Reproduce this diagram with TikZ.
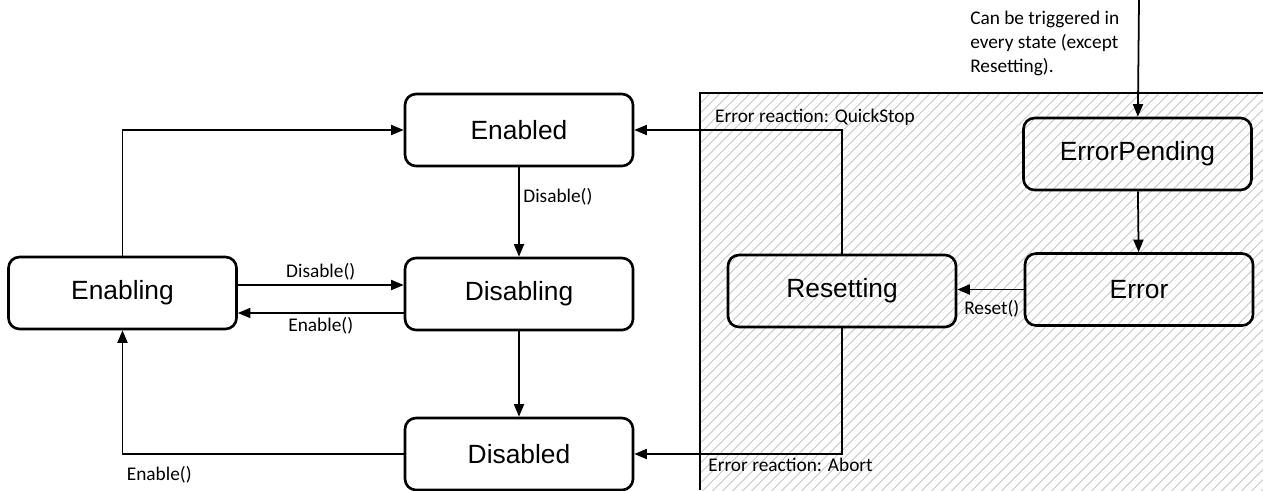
\documentclass[tikz,border=0pt]{standalone}
\usepackage{fontspec}
\setmainfont{Liberation Sans}
\newfontfamily\lblfont{Carlito}
\usetikzlibrary{arrows.meta,patterns.meta}

\begin{document}
\begin{tikzpicture}[
    >={Triangle[length=2.5mm,width=2mm]},
    state/.style={rectangle, draw, line width=1.5pt, rounded corners=0.22cm,
        minimum width=4.56cm, minimum height=1.44cm, font=\fontsize{15}{18}\selectfont},
    trans/.style={font=\lblfont\fontsize{11}{13.6}\selectfont, inner sep=2pt},
    conn/.style={->, line width=1pt}
  ]
    \useasboundingbox (0,0) rectangle (25.26,9.8);

    % Fehlerbereich (schraffiert)
    \fill[pattern={Lines[angle=45,distance=4pt,line width=0.5pt]}, pattern color=black!25]
        (14,7.94) rectangle (25.26,0);
    \draw[line width=1pt] (25.26,7.94) -| (14,0);

    \node[state] (Enabled) at (10.38, 7.2) {Enabled};
    \node[state] (Enabling) at (2.45, 3.94) {Enabling};
    \node[state] (Disabling) at (10.38, 3.92) {Disabling};
    \node[state] (Disabled) at (10.38, 0.72) {Disabled};
    \node[state] (ErrorPending) at (22.75, 6.72) {ErrorPending};
    \node[state] (Error) at (22.78, 4.01) {Error};
    \node[state] (Resetting) at (16.84, 3.98) {Resetting};

    % Uebergaenge
    \draw[conn] (Enabling.north) |- (Enabled.west);
    \draw[conn] (Enabled) -- node[trans, pos=0.33, right] {Disable()} (Disabling);
    \draw[conn] ([yshift=0.16cm]Enabling.east) -- node[trans, above] {Disable()}
        ([yshift=0.16cm]Enabling.east -| Disabling.west);
    \draw[conn] ([yshift=-0.38cm]Disabling.west) -- node[trans, below] {Enable()}
        ([yshift=-0.38cm]Disabling.west -| Enabling.east);
    \draw[conn] (Disabling) -- (Disabled);
    \draw[conn] (Disabled.west) -| node[trans, pos=0.5, below right, yshift=-0.15cm] {Enable()} (Enabling.south);

    % Fehlerbehandlung
    \coordinate (trig) at (22.78, 9.8);
    \draw[conn] (trig) -- node[trans, pos=0.37, left=0.3cm, align=left]
        {Can be triggered in\\every state (except\\Resetting).} (ErrorPending);
    \draw[conn] (ErrorPending) -- (Error);
    \draw[conn] (Error.west) -- node[trans, pos=0, below left, yshift=-0.12cm] {Reset()} (Error.west -| Resetting.east);
    \draw[conn] (Resetting.north) |- node[trans, pos=0.565, above] {Error reaction: QuickStop} (Enabled.east);
    \draw[conn] (Resetting.south) |- node[trans, pos=0.624, below] {Error reaction: Abort} (Disabled.east);
  \end{tikzpicture}
\end{document}
